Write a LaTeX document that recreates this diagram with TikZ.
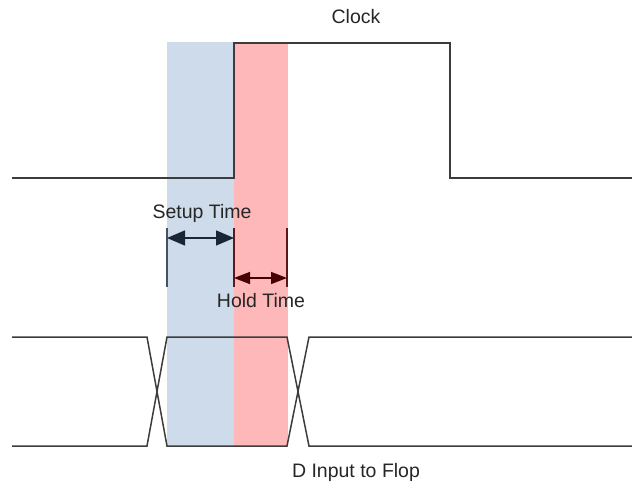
\documentclass[tikz,border=0pt]{standalone}
\usepackage{fontspec}
\setmainfont{Liberation Sans}
\usetikzlibrary{arrows.meta}
\definecolor{bandblue}{RGB}{206,219,235}
\definecolor{bandred}{RGB}{255,184,186}
\definecolor{sig}{RGB}{60,60,60}
\definecolor{setupc}{RGB}{26,38,56}
\definecolor{holdc}{RGB}{70,0,0}
\tikzset{
  signal/.style={draw=sig, line width=1.5pt, line join=miter},
  tick/.style={line width=1.4pt},
  dim/.style={line width=1.5pt, {Triangle[length=18pt,width=15pt]}-{Triangle[length=18pt,width=15pt]}},
  dimh/.style={line width=1.5pt, {Triangle[length=16pt,width=12pt]}-{Triangle[length=16pt,width=12pt]}},
  lbl/.style={font=\fontsize{19.5}{22}\selectfont, text=black!85, inner sep=0pt}
}
\begin{document}
\begin{tikzpicture}[x=1pt,y=-1pt]
\useasboundingbox (0,0) rectangle (632,490);
% bands
\fill[bandblue] (167,42) rectangle (234,446);
\fill[bandred] (234,44) rectangle (288,446);
% clock
\draw[signal] (12,178) -- (234,178) -- (234,43) -- (450,43) -- (450,178) -- (632,178);
% data
\draw[signal] (12,337) -- (147,337) -- (167,446) -- (287,446) -- (309,337) -- (632,337);
\draw[signal] (12,446) -- (147,446) -- (167,337) -- (287,337) -- (309,446) -- (632,446);
% labels
\node[lbl] (clk) at (356,17) {Clock};
\node[lbl] (din) at (356,472) {D Input to Flop};
\node[lbl] (su) at (202,213) {Setup Time};
\node[lbl] (ho) at (261,301) {Hold Time};
% ticks
\coordinate (sl1) at (167,228); \coordinate (sl2) at (167,287);
\coordinate (sm1) at (234,228); \coordinate (sm2) at (234,287);
\coordinate (hr1) at (287,228); \coordinate (hr2) at (287,287);
\draw[tick, draw=setupc!80] (sl1) -- (sl2);
\draw[tick, draw=holdc!90] (sm1) -- (sm2);
\draw[tick, draw=holdc!90] (hr1) -- (hr2);
% dimension arrows
\coordinate (sa1) at (167,238); \coordinate (sa2) at (234,238);
\coordinate (ha1) at (234,278); \coordinate (ha2) at (287,278);
\draw[dim, draw=setupc, fill=setupc] (sa1) -- (sa2);
\draw[dimh, draw=holdc, fill=holdc] (ha1) -- (ha2);
\end{tikzpicture}
\end{document}
